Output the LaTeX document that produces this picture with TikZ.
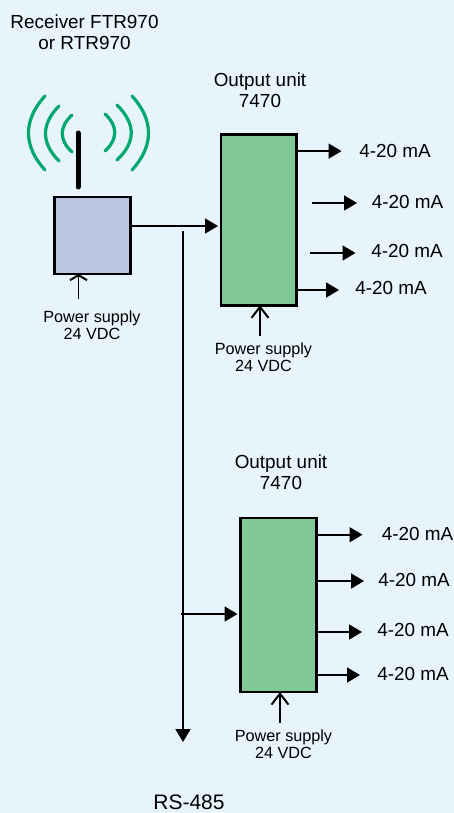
\documentclass[tikz,border=0pt]{standalone}
\usepackage{fontspec}
\setmainfont{Liberation Sans}
\usetikzlibrary{arrows.meta}
\definecolor{bgc}{HTML}{E8F4FB}
\definecolor{recv}{HTML}{B9C5E2}
\definecolor{unit}{HTML}{80C997}
\definecolor{wave}{HTML}{00A870}
\tikzset{
  x=1pt,y=-1pt,
  boxs/.style={draw=black,line width=2.5pt,inner sep=0pt,outer sep=0pt},
  flow/.style={line width=1.8pt,-{Triangle[length=13pt,width=15pt]},shorten >=0pt},
  pwr/.style={line width=1.8pt,-{Straight Barb[length=11pt,width=17pt,line width=2pt]}},
  pwrs/.style={line width=1.8pt,-{Straight Barb[length=5pt,width=17pt,line width=2pt]}},
  wavel/.style={draw=wave,line width=3.2pt,line cap=round},
  lab/.style={inner sep=0pt,align=center,font=\fontsize{18.9}{21}\selectfont},
  small/.style={inner sep=0pt,align=center,font=\fontsize{16.2}{17}\selectfont},
  ma/.style={inner sep=0pt,font=\fontsize{18.9}{21}\selectfont},
}
\begin{document}
\begin{tikzpicture}
\path[use as bounding box,fill=bgc] (0,0) rectangle (454,813);
% waves
\draw[wavel] (45,96) .. controls (23,120) and (23,146) .. (45,170);
\draw[wavel] (59,106) .. controls (41,124) and (41,143) .. (59,161);
\draw[wavel] (72,115) .. controls (59,127) and (59,140) .. (72,152);
\draw[wavel] (132,96) .. controls (154,120) and (154,146) .. (132,170);
\draw[wavel] (117,105) .. controls (136,124) and (136,142) .. (117,160);
\draw[wavel] (105,114) .. controls (118,126) and (118,139) .. (105,151);
\node[boxs,fill=recv,minimum width=76pt,minimum height=77pt] (rx) at (92.7,235.5) {};
\node[boxs,fill=unit,minimum width=75.5pt,minimum height=170.5pt] (o1) at (258.5,220) {};
\node[boxs,fill=unit,minimum width=76pt,minimum height=174pt] (o2) at (278.5,605) {};
% antenna
\coordinate (anttop) at (78,133);
\coordinate (antbot) at (78,187);
\draw[line width=5pt,line cap=round] (anttop) -- (antbot);
% titles
\node[lab] (t1) at (84.5,32.5) {Receiver FTR970\\or RTR970};
\node[lab] (t2) at (260,90) {Output unit\\7470};
\node[lab] (t3) at (281,472.5) {Output unit\\7470};
\node[inner sep=0pt,font=\fontsize{21}{24}\selectfont] (rs) at (189,802) {RS-485};
% power labels
\node[small] (p0) at (92,325) {Power supply\\24 VDC};
\node[small] (p1) at (263.5,357.5) {Power supply\\24 VDC};
\node[small] (p2) at (283.5,744.5) {Power supply\\24 VDC};
\coordinate (p0s) at (78.5,299);
\coordinate (p1s) at (260,336);
\coordinate (p2s) at (280,723);
\draw[pwrs] (p0s) -- (p0s |- rx.south);
\draw[pwr] (p1s) -- (p1s |- o1.south);
\draw[pwr] (p2s) -- (p2s |- o2.south);
% main signal
\coordinate (sig) at (218,226);
\draw[flow] (rx.east |- sig) -- (sig);
\coordinate (bustop) at (183,231);
\coordinate (busend) at (183,742);
\draw[flow] (bustop) -- (busend);
\coordinate (brs) at (181,614);
\coordinate (bre) at (237.5,614);
\draw[flow] (brs) -- (bre);
% unit 1 outputs
\node[ma] (m1) at (395,151) {4-20 mA};
\node[ma] (m2) at (407.5,202) {4-20 mA};
\node[ma] (m3) at (407,251) {4-20 mA};
\node[ma] (m4) at (391,288) {4-20 mA};
\coordinate (a1) at (341.5,151.1);
\coordinate (a2s) at (312,203);
\coordinate (a2) at (357,203);
\coordinate (a3s) at (310,253);
\coordinate (a3) at (355.5,253);
\coordinate (a4) at (339,290);
\draw[flow] (o1.east |- a1) -- (a1);
\draw[flow] (a2s) -- (a2);
\draw[flow] (a3s) -- (a3);
\draw[flow] (o1.east |- a4) -- (a4);
% unit 2 outputs
\node[ma] (n1) at (417.5,534) {4-20 mA};
\node[ma] (n2) at (414,580) {4-20 mA};
\node[ma] (n3) at (413,630) {4-20 mA};
\node[ma] (n4) at (413,674) {4-20 mA};
\coordinate (b1) at (362.5,534.7);
\coordinate (b2) at (364,581);
\coordinate (b3) at (362,632);
\coordinate (b4) at (360,675);
\draw[flow] (o2.east |- b1) -- (b1);
\draw[flow] (o2.east |- b2) -- (b2);
\draw[flow] (o2.east |- b3) -- (b3);
\draw[flow] (o2.east |- b4) -- (b4);
\end{tikzpicture}
\end{document}
